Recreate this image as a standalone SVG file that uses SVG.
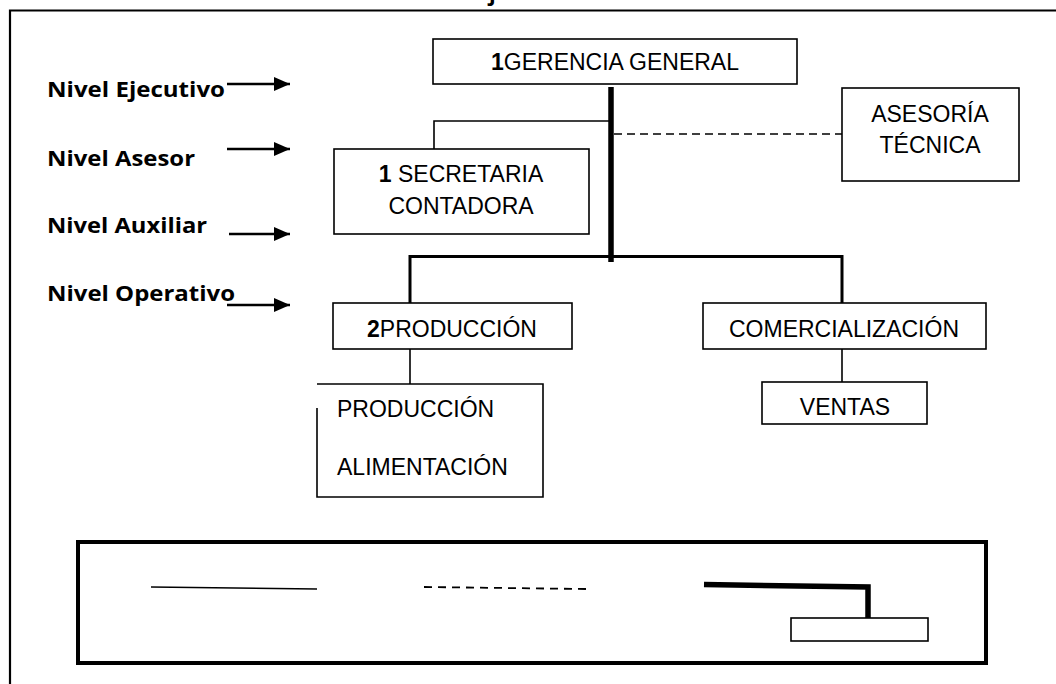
<svg xmlns="http://www.w3.org/2000/svg" width="1056" height="684" viewBox="0 0 1056 684">
<defs>
<style>
.box{fill:#fff;stroke:#000;stroke-width:1.6}
.t{font-family:"Liberation Sans",Arial,sans-serif;font-size:23px;fill:#000}
.c{text-anchor:middle}
.b{font-weight:bold}
.lvl{font-family:"Open Sans","Lato",sans-serif;font-weight:bold;font-size:22px;fill:#000}
.thin{fill:none;stroke:#000;stroke-width:1.6}
.arr{fill:none;stroke:#000;stroke-width:2.4;marker-end:url(#ah)}
</style>
<marker id="ah" viewBox="0 0 10 10" refX="10" refY="5" markerWidth="16" markerHeight="14" markerUnits="userSpaceOnUse" orient="auto" preserveAspectRatio="none">
<path d="M0,0 L10,5 L0,10 z" fill="#000"/>
</marker>
</defs>
<rect width="1056" height="684" fill="#fff"/>
<g id="frame" fill="none" stroke="#000" stroke-width="2.2">
<path d="M10,684 V10.5 H1056"/>
</g>
<text x="489" y="1" class="lvl" font-size="22">j</text>

<g id="levels">
<text x="47" y="97" class="lvl" textLength="178" lengthAdjust="spacingAndGlyphs">Nivel Ejecutivo</text>
<text x="47" y="166" class="lvl" textLength="148" lengthAdjust="spacingAndGlyphs">Nivel Asesor</text>
<text x="47" y="233" class="lvl" textLength="160" lengthAdjust="spacingAndGlyphs">Nivel Auxiliar</text>
<text x="47" y="301" class="lvl" textLength="188" lengthAdjust="spacingAndGlyphs">Nivel Operativo</text>
<line x1="227" y1="84" x2="290" y2="84" class="arr"/>
<line x1="227" y1="149" x2="290" y2="149" class="arr"/>
<line x1="229" y1="234" x2="290" y2="234" class="arr"/>
<line x1="227" y1="305" x2="290" y2="305" class="arr"/>
</g>

<g id="connectors">
<line x1="611" y1="87" x2="611" y2="262" stroke="#000" stroke-width="5.5"/>
<path d="M609,121 H434 V149" class="thin"/>
<line x1="614" y1="134" x2="842" y2="134" stroke="#000" stroke-width="1.6" stroke-dasharray="8,5"/>
<path d="M410,303 V256.5 H842 V303" fill="none" stroke="#000" stroke-width="3"/>
<line x1="410" y1="349" x2="410" y2="384" class="thin"/>
<line x1="842" y1="349" x2="842" y2="382" class="thin"/>
</g>

<g id="gerencia">
<rect x="433" y="39" width="364" height="45" class="box"/>
<text x="615" y="70" class="t c"><tspan class="b">1</tspan>GERENCIA GENERAL</text>
</g>
<g id="secretaria">
<rect x="334" y="149" width="255" height="85" class="box"/>
<text x="461" y="182" class="t c"><tspan class="b">1</tspan> SECRETARIA</text>
<text x="461" y="214" class="t c">CONTADORA</text>
</g>
<g id="asesoria">
<rect x="842" y="88" width="177" height="93" class="box"/>
<text x="930" y="122" class="t c">ASESORÍA</text>
<text x="930" y="153" class="t c">TÉCNICA</text>
</g>
<g id="produccion">
<rect x="333" y="303" width="239" height="46" class="box"/>
<text x="452" y="337" class="t c"><tspan class="b">2</tspan>PRODUCCIÓN</text>
</g>
<g id="prod-alimentacion">
<path d="M317,408 V497 H543 V384 H317" class="box"/>
<text x="337" y="417" class="t">PRODUCCIÓN</text>
<text x="337" y="475" class="t">ALIMENTACIÓN</text>
</g>
<g id="comercializacion">
<rect x="703" y="303" width="283" height="46" class="box"/>
<text x="844" y="337" class="t c">COMERCIALIZACIÓN</text>
</g>
<g id="ventas">
<rect x="762" y="382" width="165" height="42" class="box"/>
<text x="845" y="415" class="t c">VENTAS</text>
</g>

<g id="legend">
<rect x="78" y="542" width="908" height="121" fill="none" stroke="#000" stroke-width="4"/>
<line x1="151" y1="587" x2="317" y2="589" stroke="#000" stroke-width="1.6"/>
<line x1="424" y1="587" x2="586" y2="589" stroke="#000" stroke-width="1.8" stroke-dasharray="8,6"/>
<path d="M704,584.5 L868,587 V618" fill="none" stroke="#000" stroke-width="5.5"/>
<rect x="791" y="618" width="137" height="23" class="box"/>
</g>
</svg>
